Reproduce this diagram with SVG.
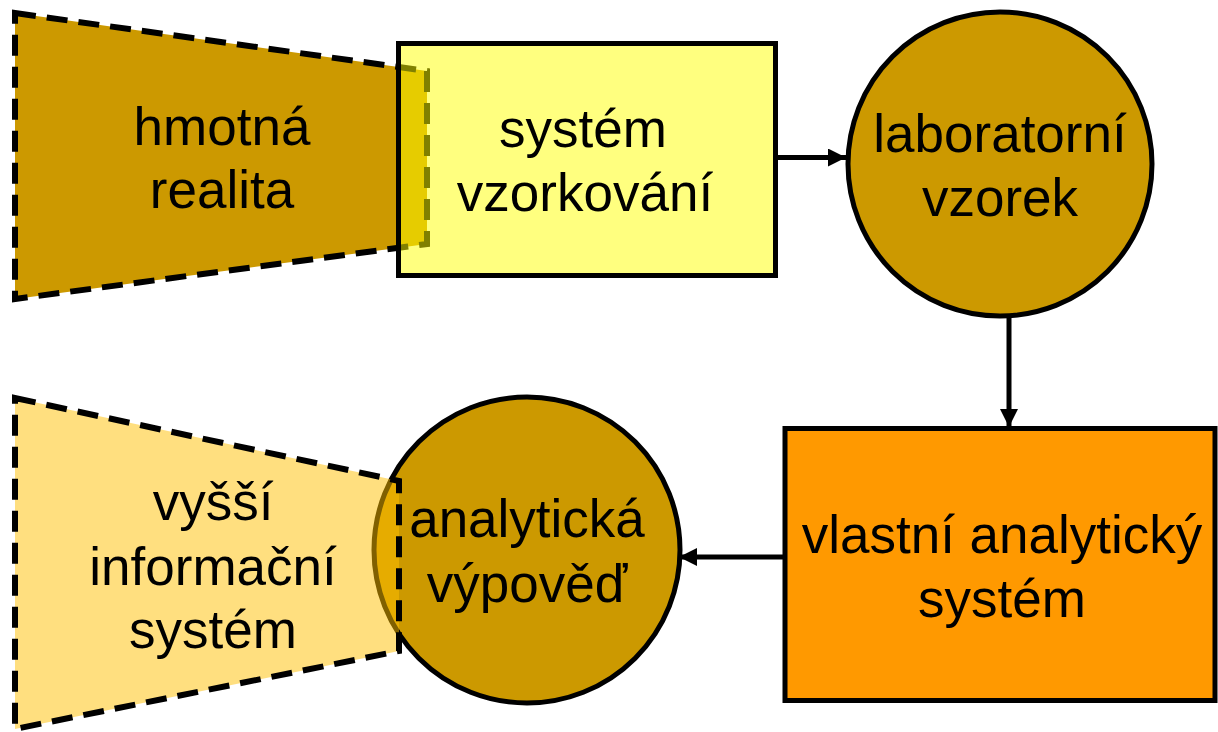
<svg xmlns="http://www.w3.org/2000/svg" width="1218" height="732" viewBox="0 0 1218 732">
<style>
.t{font-family:"Liberation Sans",Arial,sans-serif;font-size:53px;fill:#000;text-anchor:middle}
.dash{stroke:#000;stroke-width:6;stroke-dasharray:21 11;stroke-linejoin:miter}
.solid{stroke:#000;stroke-width:5}
.conn{stroke:#000;stroke-width:5;fill:none}
</style>
<defs>
<marker id="ah" markerUnits="userSpaceOnUse" markerWidth="19" markerHeight="19" refX="18" refY="9" orient="auto">
<path d="M0,0 L18,9 L0,18 z" fill="#000"/>
</marker>
</defs>
<rect width="1218" height="732" fill="#fff"/>
<g id="hmotna-realita">
<polygon class="dash" points="15,13 427,71 427,244 15,299" fill="#CC9900"/>
<text class="t" x="222" y="145">hmotná</text>
<text class="t" x="222" y="208">realita</text>
</g>
<g id="system-vzorkovani">
<rect class="solid" x="398.5" y="43.5" width="377" height="232" fill="#FFFF00" fill-opacity="0.5"/>
<text class="t" x="583" y="147">systém</text>
<text class="t" x="585" y="211">vzorkování</text>
</g>
<g id="laboratorni-vzorek">
<circle class="solid" cx="1000" cy="164" r="152" fill="#CC9900"/>
<text class="t" x="1000" y="152">laboratorní</text>
<text class="t" x="1000" y="216">vzorek</text>
</g>
<g id="vlastni-analyticky-system">
<rect class="solid" x="785" y="428.5" width="430" height="272" fill="#FF9900"/>
<text class="t" x="1002" y="553">vlastní analytický</text>
<text class="t" x="1002" y="617">systém</text>
</g>
<g id="analyticka-vypoved">
<circle class="solid" cx="527" cy="550" r="153" fill="#CC9900"/>
<text class="t" x="527" y="537">analytická</text>
<text class="t" x="527" y="602">výpověď</text>
</g>
<g id="vyssi-informacni-system">
<polygon class="dash" points="15,398 399,481 399,651 15,729" fill="#FFC000" fill-opacity="0.5"/>
<text class="t" x="213" y="520">vyšší</text>
<text class="t" x="213" y="585">informační</text>
<text class="t" x="213" y="648">systém</text>
</g>
<g id="connectors">
<line class="conn" x1="777" y1="157.5" x2="846" y2="157.5" marker-end="url(#ah)"/>
<line class="conn" x1="1009" y1="316" x2="1009" y2="427" marker-end="url(#ah)"/>
<line class="conn" x1="784" y1="557" x2="679" y2="557" marker-end="url(#ah)"/>
</g>
</svg>
